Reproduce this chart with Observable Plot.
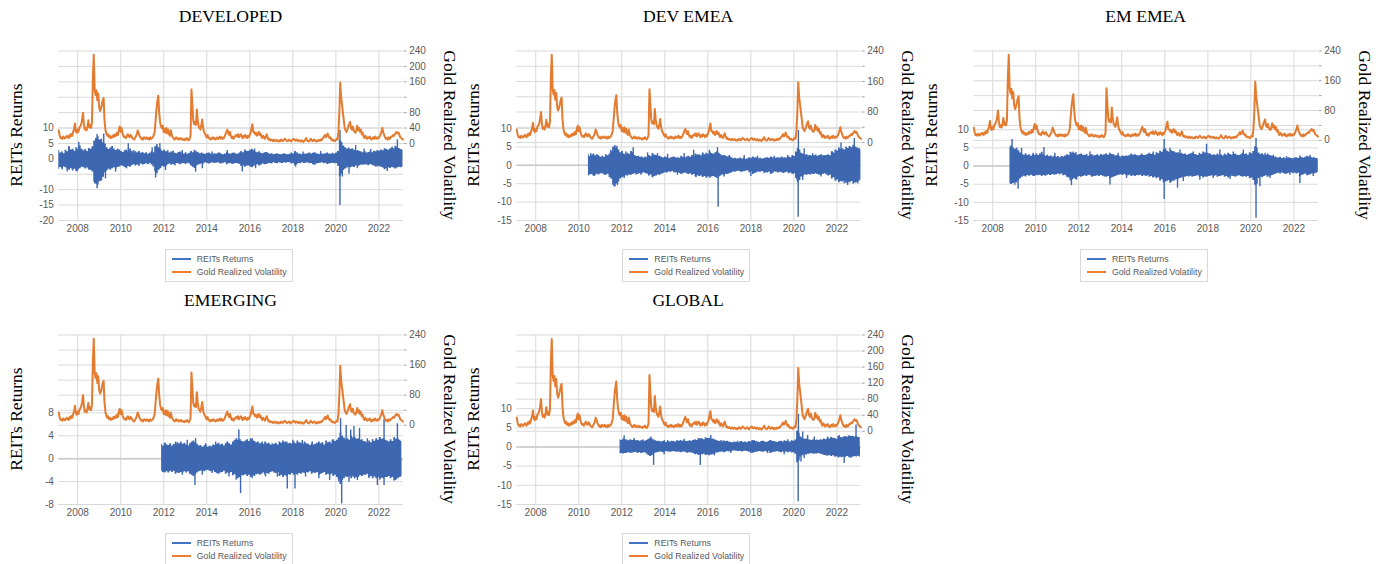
<!DOCTYPE html>
<html><head><meta charset="utf-8">
<script src="https://cdn.jsdelivr.net/npm/d3@7"></script>
<script src="https://cdn.jsdelivr.net/npm/@observablehq/plot@0.6"></script>
<style>
body{margin:0;background:#fff;}
#root{position:relative;width:1384px;height:564px;overflow:hidden;background:#fff;}
.panel{position:absolute;width:458px;height:284px;}
.title{position:absolute;left:58.3px;width:344.4px;top:5.8px;text-align:center;font:17.6px "Liberation Serif",serif;line-height:20px;color:#000;white-space:nowrap;}
.ylab{position:absolute;font:17.5px "Liberation Serif",serif;line-height:17.5px;white-space:nowrap;color:#000;}
.legend{position:absolute;left:164.5px;top:248.7px;width:128px;height:33px;border:1px solid #d9d9d9;box-sizing:border-box;font:8.8px "Liberation Sans",sans-serif;color:#595959;background:#fff;}
.lg{position:absolute;left:0;height:12px;line-height:12px;white-space:nowrap;}
.sw{position:absolute;left:6.2px;top:5px;width:19px;height:2px;}
.lt{position:absolute;left:31.2px;top:0;}
</style></head>
<body><div id="root"></div>
<script>
// ---------- shared ticks ----------
const yearTicks = [2008, 2010, 2012, 2014, 2016, 2018, 2020, 2022];
const rightTicks = [0, 40, 80, 120, 160, 200, 240];

// ---------- Gold realized volatility (semi-monthly, from 2007.12) ----------
const goldStart = 2007.12;
const goldVol = [
 34,20,14,16,12,18,15,13,17,20,16,14,22,18,25,20,30,36,52,32,28,36,30,42,
 44,50,62,80,50,36,40,34,44,60,42,48,40,55,170,230,140,126,138,112,130,95,84,90,
 100,112,118,60,36,26,20,24,16,20,14,18,16,22,18,24,20,28,22,36,44,30,40,28,
 20,16,18,14,20,24,18,16,22,20,14,12,10,14,18,24,34,28,20,16,12,14,10,16,
 14,12,16,12,14,10,16,12,14,16,22,30,60,90,110,124,80,56,44,40,46,30,38,28,
 40,26,36,24,20,34,22,16,14,10,12,16,12,14,10,12,14,10,12,10,8,12,10,14,
 10,8,12,20,140,100,60,50,56,48,88,60,44,40,36,48,62,40,30,26,20,16,22,14,
 14,10,14,12,16,12,14,10,12,16,12,14,18,12,16,12,14,18,24,30,36,28,22,30,
 20,14,18,12,16,20,22,18,24,16,20,24,18,14,20,16,22,18,14,20,16,22,28,40,
 50,30,30,24,28,20,24,30,22,26,18,14,20,16,12,18,24,16,10,12,8,10,8,6,
 10,8,6,9,7,5,8,6,10,8,6,9,12,10,7,6,8,10,7,5,8,10,12,9,
 7,10,8,6,9,7,5,8,6,4,7,10,14,8,6,5,8,12,9,6,8,10,7,5,
 8,6,9,7,10,8,12,14,18,22,16,20,26,18,14,16,10,8,10,7,6,9,12,10,
 30,80,158,120,100,80,60,40,34,30,36,44,50,56,40,36,44,34,30,28,34,46,34,40,
 30,36,24,28,18,14,20,16,12,16,14,18,12,10,14,16,12,18,14,12,16,14,18,24,
 30,40,28,22,16,12,14,10,16,12,14,18,18,22,20,24,28,30,26,28,22,16,14,12,
 10];

// ---------- REITs returns: monthly high / low envelopes + notable daily spikes ----------
// DEVELOPED (monthly from 2007.12)
const devStart = 2007.12;
const devHi = [
 2.6,1.9,2.2,1.7,2.8,2.3,3.8,2.9,3.1,2.5,3.6,3.0,
 4.2,3.1,2.6,3.0,2.4,3.4,3.1,3.9,5.8,6.6,7.2,6.1,
 6.4,5.2,4.8,3.6,3.0,3.5,4.0,3.2,2.7,3.1,2.9,2.4,
 2.1,2.6,2.9,2.2,3.2,2.5,1.9,2.3,2.0,2.4,1.8,2.1,
 1.7,2.0,1.5,1.8,2.3,2.0,3.9,4.6,3.6,3.1,2.5,2.8,
 2.3,2.6,1.9,2.2,2.5,1.8,1.7,2.1,2.2,1.8,1.6,2.0,
 1.5,1.8,2.4,2.0,2.8,2.3,2.0,1.7,1.9,1.6,1.5,1.8,
 1.9,1.6,1.3,1.7,1.5,1.8,1.9,1.5,1.3,1.6,2.1,1.7,
 1.5,1.8,1.9,1.6,1.5,1.9,2.4,2.0,2.9,2.5,2.4,2.8,
 3.1,2.6,2.2,2.0,2.3,1.8,1.7,2.0,2.1,1.8,1.5,1.7,
 1.3,1.5,1.7,1.4,1.3,1.5,1.7,1.4,1.3,1.5,1.9,1.6,
 2.4,2.0,1.6,1.5,1.3,1.6,1.5,1.7,1.9,1.6,1.8,2.0,
 1.7,1.5,1.3,1.6,1.5,1.7,1.9,1.6,1.5,1.8,1.6,1.9,
 2.4,6.0,5.4,4.2,3.6,3.2,3.5,3.0,3.3,2.8,2.5,2.7,
 2.4,2.2,2.0,2.3,1.9,2.1,2.3,2.0,2.5,2.3,2.7,2.5,
 2.9,2.6,3.3,3.0,2.8,3.2,3.6,3.3,4.1,3.8,3.4,3.0,
 2.8];
const devLo = [
 -3.4,-2.8,-3.1,-2.6,-2.9,-3.3,-3.7,-3.2,-3.9,-3.4,-4.1,-3.6,
 -3.2,-2.7,-2.9,-3.3,-3.0,-3.6,-3.8,-4.3,-7.5,-8.2,-8.6,-7.4,
 -7.2,-6.0,-4.6,-3.9,-3.4,-3.7,-3.2,-2.9,-3.3,-2.8,-2.6,-2.3,
 -2.4,-2.8,-3.2,-2.5,-2.7,-2.2,-1.9,-2.3,-2.0,-2.4,-1.7,-2.0,
 -1.8,-1.6,-1.9,-1.5,-2.0,-2.6,-4.2,-4.8,-3.7,-3.2,-2.5,-2.7,
 -2.4,-2.0,-1.7,-2.1,-1.8,-2.2,-1.5,-1.7,-1.9,-1.6,-1.5,-1.8,
 -1.4,-1.7,-2.3,-2.7,-3.1,-2.4,-2.0,-1.8,-1.5,-1.7,-1.3,-1.5,
 -1.7,-1.4,-1.3,-1.5,-1.4,-1.3,-1.6,-1.7,-1.4,-1.3,-1.9,-1.6,
 -1.5,-1.8,-1.7,-1.5,-1.6,-1.8,-2.5,-2.2,-2.7,-2.4,-2.3,-2.6,
 -2.9,-2.5,-2.0,-1.9,-2.3,-2.1,-1.7,-1.9,-1.8,-1.6,-1.5,-1.7,
 -1.3,-1.5,-1.6,-1.3,-1.4,-1.5,-1.3,-1.4,-1.2,-1.3,-1.7,-1.5,
 -2.2,-1.9,-1.5,-1.6,-1.3,-1.5,-1.4,-1.3,-1.6,-1.5,-1.9,-2.1,
 -1.7,-1.5,-1.4,-1.3,-1.6,-1.4,-1.8,-1.7,-1.5,-1.4,-1.6,-1.5,
 -2.4,-5.8,-5.0,-3.8,-3.3,-3.0,-2.7,-2.9,-2.6,-2.8,-2.3,-2.5,
 -2.2,-2.0,-2.1,-1.9,-2.0,-2.2,-1.8,-2.1,-2.4,-2.2,-2.6,-2.5,
 -2.7,-3.0,-3.5,-3.2,-2.9,-3.1,-2.8,-3.0,-3.3,-3.0,-2.7,-2.9,
 -2.6];
const devSpikes = [
 [2007.59,4.0],[2008.52,3.2],[2008.05,5.4],[2008.90,7.9],[2009.21,8.1],[2010.35,4.9],[2010.61,2.7],
 [2011.46,3.6],[2011.82,4.9],[2012.86,2.7],[2014.25,2.2],[2014.95,2.7],[2016.22,3.2],[2018.47,2.2],
 [2019.29,2.4],[2020.19,9.2],[2020.92,4.3],[2021.31,3.2],[2021.62,3.0],[2022.62,3.8],[2022.86,6.2],
 [2007.28,-3.6],[2007.51,-4.3],[2007.97,-4.3],[2008.79,-8.1],[2008.90,-9.7],[2009.29,-6.5],
 [2009.76,-4.3],[2011.62,-6.2],[2012.08,-3.8],[2013.48,-4.3],[2013.79,-3.2],[2015.65,-4.3],
 [2016.27,-3.2],[2018.13,-2.7],[2020.19,-15.1],[2020.30,-5.9],[2020.61,-4.9],[2021.00,-3.2],
 [2021.85,-2.7],[2022.39,-4.1]];

// DEV EMEA (monthly from 2010.45)
const devEmeaStart = 2010.45;
const devEmeaHi = [
 2.9,2.4,2.7,3.1,2.6,2.9,2.5,2.2,
 2.5,2.2,2.9,2.6,3.1,3.7,4.9,5.3,4.6,4.2,3.4,3.8,
 3.1,2.8,3.3,3.0,3.8,3.4,2.7,2.4,2.5,2.2,2.3,2.0,
 2.3,2.1,2.7,2.4,3.2,2.8,2.7,2.4,2.5,2.2,2.0,2.3,
 2.1,1.8,2.0,2.2,2.3,2.0,2.1,1.9,2.5,2.2,2.0,2.3,
 2.5,2.2,2.7,2.5,3.1,2.8,2.9,2.6,3.2,2.9,3.3,3.0,
 3.6,3.2,3.0,3.4,3.7,3.3,2.9,2.6,2.7,2.5,2.3,2.5,
 2.1,1.8,1.9,1.7,1.8,2.0,1.7,1.9,1.6,1.8,2.1,1.9,
 2.3,2.0,2.1,1.8,1.9,1.7,1.8,2.0,2.1,1.9,2.3,2.1,
 1.8,2.0,2.1,1.9,2.3,2.0,2.1,1.9,2.3,2.1,2.7,2.4,
 3.6,4.6,4.2,3.3,3.0,2.8,2.9,2.6,2.7,2.5,2.6,2.8,
 2.5,2.7,2.9,2.6,2.5,2.7,2.9,2.6,3.7,3.3,4.2,3.9,
 4.7,4.3,4.5,4.2,4.9,4.6,5.1,4.8,5.5,5.0,4.8,4.5,
 4.2];
const devEmeaLo = [
 -2.9,-2.6,-2.5,-2.9,-2.7,-2.4,-2.6,-2.3,
 -2.3,-2.5,-2.7,-2.4,-3.3,-3.8,-5.4,-5.8,-5.1,-4.6,-3.7,-3.4,
 -3.1,-2.8,-2.9,-2.6,-2.7,-2.5,-2.3,-2.6,-2.4,-2.2,-2.3,-2.0,
 -2.2,-2.4,-2.9,-2.6,-3.3,-3.0,-2.9,-2.6,-2.7,-2.4,-2.2,-2.0,
 -2.1,-1.8,-1.9,-1.7,-2.0,-2.1,-1.9,-2.2,-2.5,-2.3,-2.1,-2.3,
 -2.5,-2.3,-2.7,-2.5,-3.1,-2.8,-3.0,-2.9,-3.3,-3.0,-3.5,-3.2,
 -3.5,-3.2,-3.0,-3.3,-3.6,-3.2,-2.9,-2.6,-2.7,-2.4,-2.5,-2.2,
 -2.1,-1.8,-1.9,-1.7,-1.6,-1.8,-1.9,-1.7,-1.6,-1.5,-2.0,-1.8,
 -2.5,-2.2,-2.0,-1.8,-1.9,-1.7,-1.8,-2.0,-2.1,-1.9,-2.5,-2.2,
 -1.8,-1.9,-2.1,-1.9,-2.0,-2.2,-2.0,-1.9,-2.3,-2.1,-2.5,-2.3,
 -3.5,-4.6,-4.1,-3.2,-2.9,-2.6,-2.7,-2.5,-2.6,-2.4,-2.5,-2.3,
 -2.5,-2.7,-2.6,-2.5,-2.3,-2.6,-2.9,-2.7,-3.7,-3.4,-4.3,-4.0,
 -4.7,-4.4,-4.5,-4.2,-4.9,-4.6,-4.7,-4.4,-5.1,-4.8,-4.7,-4.4,
 -4.0];
const devEmeaSpikes = [
 [2010.56,3.2],[2010.90,2.7],[2011.49,4.1],[2011.77,5.2],[2012.19,3.6],[2012.53,4.8],[2013.20,3.4],
 [2013.66,3.2],[2014.13,3.0],[2014.90,3.2],[2015.34,4.1],[2015.76,3.4],[2016.07,4.1],[2016.45,4.8],
 [2017.00,2.7],[2017.69,2.7],[2018.31,2.5],[2019.09,2.5],[2019.71,2.7],[2020.21,9.5],[2020.48,4.5],
 [2020.87,3.2],[2021.41,2.7],[2021.80,3.6],[2022.19,6.1],[2022.58,5.0],[2022.81,7.3],[2023.04,4.5],
 [2010.72,-3.0],[2011.18,-2.7],[2011.65,-5.9],[2011.80,-5.5],[2012.11,-3.6],[2012.89,-2.7],
 [2013.43,-3.4],[2014.59,-2.7],[2015.45,-3.4],[2016.14,-3.0],[2016.48,-11.4],[2016.76,-3.2],
 [2018.00,-3.0],[2018.62,-2.3],[2020.14,-3.9],[2020.20,-14.1],[2020.41,-4.1],[2021.26,-3.2],
 [2022.34,-5.0],[2022.50,-5.5],[2022.97,-5.0]];

// EM EMEA (monthly from 2008.8)
const emEmeaStart = 2008.8;
const emEmeaHi = [
 5.2,5.6,5.0,4.6,
 4.9,4.2,3.6,3.2,3.0,3.4,2.9,3.1,2.7,3.2,2.9,3.4,
 2.9,3.3,3.8,3.1,2.7,3.0,2.6,2.8,2.5,2.7,2.4,2.6,
 2.3,2.6,2.5,2.8,3.1,2.9,3.8,3.5,3.4,3.7,3.0,3.2,
 3.3,3.0,2.9,3.2,2.7,3.0,3.1,2.8,2.9,3.1,2.8,3.2,
 2.9,3.1,3.3,3.0,3.5,3.2,3.1,2.8,2.9,2.7,2.5,2.8,
 2.6,2.8,2.7,3.0,3.3,3.0,3.1,2.9,2.8,3.0,3.1,2.9,
 3.0,3.2,3.5,3.2,3.3,3.0,3.7,3.4,4.1,3.8,4.5,4.8,
 4.1,3.8,4.3,4.0,3.9,3.6,3.7,3.4,3.5,3.2,3.3,3.0,
 3.2,3.4,3.5,3.2,3.1,2.9,3.5,3.2,3.9,3.6,3.7,3.4,
 3.3,3.0,3.1,2.9,3.3,3.0,3.1,2.8,3.3,3.0,3.5,3.2,
 3.0,3.2,3.3,3.0,2.9,3.1,3.5,3.2,3.3,3.0,3.7,3.4,
 4.0,5.3,5.0,3.6,3.2,3.4,3.0,2.9,3.3,3.0,2.8,2.6,
 2.5,2.3,2.2,2.4,2.1,2.3,2.0,2.2,2.3,2.1,2.0,2.2,
 2.3,2.1,2.5,2.3,2.2,2.4,2.7,2.5,2.4,2.2,2.3,2.1,
 2.0];
const emEmeaLo = [
 -4.9,-5.1,-4.8,-4.5,
 -4.7,-4.0,-3.5,-3.1,-2.8,-3.0,-2.6,-2.8,-2.5,-2.7,-2.9,-2.6,
 -2.7,-2.5,-2.9,-2.6,-2.8,-2.5,-2.4,-2.6,-2.3,-2.5,-2.4,-2.2,
 -2.4,-2.2,-2.7,-2.5,-3.1,-3.3,-4.1,-3.8,-3.5,-3.7,-3.1,-2.9,
 -3.1,-2.9,-2.7,-2.9,-2.5,-2.7,-3.1,-2.8,-2.9,-2.7,-2.9,-2.6,
 -2.8,-3.0,-3.1,-2.9,-3.5,-3.3,-3.1,-2.9,-2.7,-2.5,-2.4,-2.6,
 -2.3,-2.5,-2.7,-2.5,-2.9,-2.7,-2.9,-2.6,-2.7,-2.5,-2.9,-2.7,
 -2.8,-2.6,-3.1,-2.9,-3.3,-3.1,-3.5,-3.2,-4.1,-3.8,-4.6,-4.4,
 -4.2,-4.0,-4.5,-4.2,-4.1,-3.8,-3.7,-3.4,-3.3,-3.0,-3.1,-2.9,
 -3.0,-2.8,-3.1,-2.9,-2.8,-2.7,-3.1,-2.9,-3.3,-3.0,-3.1,-2.9,
 -2.8,-2.7,-2.9,-2.7,-3.1,-2.9,-2.8,-2.6,-3.1,-2.9,-3.3,-3.0,
 -2.8,-2.9,-3.1,-2.8,-2.7,-2.9,-3.1,-2.9,-3.1,-2.9,-3.5,-3.3,
 -4.0,-5.3,-5.0,-3.4,-3.0,-3.2,-2.9,-2.7,-3.1,-2.8,-2.7,-2.5,
 -2.3,-2.1,-2.0,-2.2,-1.9,-2.1,-2.3,-2.1,-2.0,-1.8,-2.1,-1.9,
 -2.2,-2.0,-2.9,-2.6,-2.4,-2.2,-2.7,-2.5,-2.3,-2.1,-2.2,-2.0,
 -1.8];
const emEmeaSpikes = [
 [2008.90,7.3],[2009.34,4.9],[2009.88,3.5],[2010.38,5.1],[2010.89,3.5],[2011.74,3.9],[2012.52,3.9],
 [2013.14,3.0],[2013.83,3.5],[2014.92,3.3],[2015.46,3.9],[2015.97,7.3],[2016.24,4.9],[2016.70,4.4],
 [2017.32,3.9],[2017.94,6.0],[2018.56,4.4],[2019.18,3.9],[2019.65,4.4],[2020.24,7.6],[2020.66,3.5],
 [2021.04,3.0],[2021.66,2.6],[2022.28,2.8],[2022.75,3.0],
 [2009.03,-5.3],[2009.18,-6.4],[2009.88,-2.9],[2010.65,-2.5],[2011.66,-5.4],[2011.90,-3.9],
 [2012.67,-2.9],[2013.45,-5.2],[2014.22,-3.4],[2015.15,-2.9],[2015.97,-9.2],[2016.24,-4.8],
 [2016.59,-6.1],[2016.86,-4.3],[2017.63,-3.9],[2018.25,-3.4],[2019.03,-3.7],[2020.24,-14.4],
 [2020.42,-5.7],[2020.89,-3.4],[2021.82,-2.5],[2022.28,-4.8],[2022.90,-2.9]];

// EMERGING (monthly from 2011.9)
const emergingStart = 2011.9;
const emergingHi = [
 2.5,2.2,
 2.7,2.4,2.3,2.6,2.2,2.5,2.4,2.8,2.6,2.9,2.5,2.7,
 2.4,2.2,2.6,2.9,3.1,2.8,2.5,2.2,2.3,2.0,2.2,2.4,
 2.0,2.2,2.1,2.4,2.3,2.5,2.7,2.4,2.5,2.2,2.6,2.9,
 2.6,2.4,2.9,3.2,3.5,3.2,3.3,3.0,2.9,3.1,3.3,3.0,
 3.5,3.2,3.0,2.8,2.9,2.6,2.7,2.5,2.9,2.6,2.7,2.4,
 2.3,2.5,2.7,2.4,2.9,2.7,3.1,2.8,2.9,2.6,2.7,2.5,
 2.9,2.6,3.1,2.8,2.7,2.5,2.9,2.6,2.5,2.3,2.6,2.4,
 2.5,2.7,2.9,2.6,2.7,2.4,3.1,2.8,2.9,2.6,3.3,3.0,
 3.2,3.6,4.5,3.9,3.6,3.3,3.5,3.2,3.9,3.6,3.7,3.4,
 3.5,3.2,3.3,3.0,2.9,2.7,3.1,2.8,3.3,3.0,3.5,3.2,
 3.7,3.4,3.5,3.2,3.1,2.9,3.3,3.0,3.7,3.4,3.5,3.2,
 3.0];
const emergingLo = [
 -2.2,-2.4,
 -2.5,-2.3,-2.5,-2.2,-2.4,-2.2,-2.7,-2.5,-2.6,-2.4,-2.5,-2.3,
 -2.5,-2.3,-2.7,-2.9,-3.1,-2.8,-2.5,-2.3,-2.2,-2.0,-2.3,-2.1,
 -2.0,-2.2,-2.3,-2.1,-2.4,-2.6,-2.7,-2.5,-2.4,-2.2,-2.7,-2.5,
 -2.6,-2.4,-3.0,-2.8,-3.7,-3.4,-3.3,-3.0,-3.0,-2.8,-3.1,-2.9,
 -3.3,-3.0,-3.1,-2.8,-2.7,-2.9,-2.7,-2.5,-2.9,-2.6,-2.7,-2.4,
 -2.3,-2.5,-2.6,-2.4,-3.1,-2.9,-3.3,-3.0,-3.1,-2.8,-2.9,-2.6,
 -2.9,-2.7,-2.9,-2.6,-2.7,-2.5,-2.6,-2.4,-2.5,-2.3,-2.7,-2.5,
 -2.6,-2.4,-2.9,-2.7,-2.6,-2.4,-2.9,-2.7,-2.9,-2.7,-3.1,-2.9,
 -3.3,-3.7,-4.5,-3.8,-3.5,-3.2,-3.3,-3.1,-3.5,-3.2,-3.5,-3.3,
 -3.3,-3.0,-3.1,-2.9,-2.9,-2.7,-3.3,-3.1,-3.5,-3.2,-3.5,-3.3,
 -3.7,-3.4,-3.5,-3.3,-3.3,-3.1,-3.5,-3.3,-3.9,-3.6,-3.5,-3.3,
 -3.0];
const emergingSpikes = [
 [2012.08,2.6],[2012.55,2.9],[2013.09,3.2],[2013.48,3.5],[2013.94,2.6],[2014.41,2.9],[2014.95,2.8],
 [2015.49,5.0],[2015.88,3.2],[2016.11,3.5],[2016.58,2.9],[2017.04,2.6],[2017.66,2.9],[2018.00,3.2],
 [2018.44,3.2],[2018.90,2.9],[2019.37,2.8],[2019.83,3.2],[2020.22,7.0],[2020.48,5.8],[2020.69,5.0],
 [2020.84,5.6],[2021.10,5.3],[2021.46,3.5],[2021.85,3.2],[2022.24,6.9],[2022.47,2.9],[2022.86,6.1],
 [2012.24,-2.3],[2012.86,-2.9],[2013.45,-4.7],[2013.79,-2.9],[2014.25,-2.6],[2015.03,-3.2],
 [2015.57,-6.1],[2016.11,-3.5],[2016.73,-3.2],[2017.28,-3.2],[2017.74,-5.3],[2018.10,-5.3],
 [2018.59,-3.2],[2019.21,-3.5],[2019.71,-3.8],[2020.14,-4.1],[2020.27,-7.9],[2020.61,-4.1],
 [2021.00,-3.8],[2021.54,-3.5],[2021.93,-4.7],[2022.24,-4.7],[2022.78,-3.8],[2023.01,-3.2]];

// GLOBAL (monthly from 2011.92)
const globalStart = 2011.92;
const globalHi = [
 1.9,1.7,
 2.1,1.9,1.8,1.6,1.9,1.7,1.8,1.6,1.7,1.5,1.6,1.8,
 1.5,1.7,2.0,2.2,2.1,1.8,1.6,1.4,1.5,1.3,1.4,1.6,
 1.2,1.4,1.3,1.5,1.4,1.3,1.6,1.5,1.7,1.5,1.6,1.4,
 1.4,1.6,1.5,1.7,1.9,1.7,2.2,2.0,2.1,1.9,2.4,2.2,
 2.3,2.0,2.1,1.9,1.7,1.5,1.4,1.3,1.6,1.4,1.5,1.3,
 1.2,1.1,1.3,1.2,1.1,1.3,1.4,1.2,1.3,1.1,1.4,1.3,
 1.7,1.5,1.4,1.3,1.2,1.4,1.5,1.3,1.2,1.4,1.7,1.5,
 1.4,1.3,1.2,1.4,1.5,1.3,1.6,1.4,1.5,1.3,1.6,1.5,
 1.8,4.1,3.6,2.6,2.3,2.0,2.1,1.9,1.8,1.7,1.9,1.7,
 1.8,1.7,1.9,1.8,2.1,1.9,2.3,2.1,2.5,2.3,2.2,2.0,
 2.7,2.5,2.4,2.6,2.7,2.5,2.9,2.7,2.8,2.6,2.7,2.5,
 2.4];
const globalLo = [
 -1.8,-1.7,
 -1.8,-1.7,-1.6,-1.5,-1.7,-1.6,-1.5,-1.4,-1.6,-1.5,-1.7,-1.6,
 -1.5,-1.8,-2.2,-2.5,-2.3,-1.8,-1.6,-1.5,-1.4,-1.3,-1.5,-1.4,
 -1.2,-1.3,-1.4,-1.3,-1.2,-1.3,-1.4,-1.3,-1.5,-1.4,-1.3,-1.5,
 -1.4,-1.5,-1.6,-1.7,-2.0,-1.9,-2.2,-2.1,-2.0,-1.9,-2.2,-2.1,
 -2.3,-2.1,-2.0,-1.8,-1.6,-1.5,-1.4,-1.3,-1.5,-1.4,-1.2,-1.3,
 -1.2,-1.1,-1.0,-1.1,-1.2,-1.1,-1.3,-1.2,-1.1,-1.2,-1.4,-1.3,
 -1.7,-1.5,-1.4,-1.3,-1.2,-1.3,-1.4,-1.2,-1.3,-1.1,-1.7,-1.5,
 -1.4,-1.3,-1.2,-1.4,-1.5,-1.3,-1.4,-1.3,-1.5,-1.3,-1.6,-1.5,
 -1.9,-4.1,-3.6,-2.6,-2.3,-2.0,-2.1,-1.9,-1.8,-1.7,-1.9,-1.8,
 -1.8,-1.7,-1.9,-2.0,-2.1,-2.3,-2.4,-2.2,-2.5,-2.3,-2.6,-2.4,
 -2.9,-2.7,-2.8,-2.6,-2.7,-2.5,-2.8,-2.6,-2.7,-2.5,-2.6,-2.4,
 -2.2];
const globalSpikes = [
 [2012.11,2.9],[2012.58,2.2],[2013.35,2.6],[2014.13,1.7],[2014.90,2.0],[2015.68,2.2],[2016.14,3.0],
 [2016.61,1.7],[2017.38,1.5],[2018.16,1.7],[2018.93,1.5],[2019.71,1.9],[2020.21,8.5],[2020.41,3.9],
 [2020.64,3.0],[2020.95,2.6],[2021.57,2.6],[2022.11,3.0],[2022.50,2.6],[2022.89,5.7],
 [2012.19,-1.7],[2012.73,-1.7],[2013.48,-4.8],[2013.97,-2.0],[2015.06,-1.7],[2015.65,-4.8],
 [2016.30,-2.3],[2017.07,-1.7],[2018.00,-1.7],[2018.78,-1.7],[2019.55,-2.0],[2020.20,-14.3],
 [2020.33,-3.9],[2020.48,-3.0],[2021.41,-2.2],[2021.96,-2.6],[2022.34,-4.3],[2022.65,-3.0],[2023.04,-2.6]];

// ---------- panel definitions ----------
const panels = [
 {title:"DEVELOPED", col:0, row:0, start:devStart, hi:devHi, lo:devLo, spikes:devSpikes,
  yDomain:[-20,35], r0:5, k:0.125, grid:[-20,-15,-10,-5,0,5,10], left:[10,5,0,-10,-15,-20], right:[240,200,160,80,40,0]},
 {title:"DEV EMEA", col:1, row:0, start:devEmeaStart, hi:devEmeaHi, lo:devEmeaLo, spikes:devEmeaSpikes,
  yDomain:[-15,31.1], r0:6.2, k:(31.1-6.2)/240, grid:[-15,-10,-5,0,5,10], left:[10,5,0,-5,-10,-15], right:[240,160,80,0]},
 {title:"EM EMEA", col:2, row:0, start:emEmeaStart, hi:emEmeaHi, lo:emEmeaLo, spikes:emEmeaSpikes,
  yDomain:[-15,31.7], r0:7.1, k:(31.7-7.1)/240, grid:[-15,-10,-5,0,5,10], left:[10,5,0,-5,-10,-15], right:[240,160,80,0]},
 {title:"EMERGING", col:0, row:1, start:emergingStart, hi:emergingHi, lo:emergingLo, spikes:emergingSpikes,
  yDomain:[-8,21.6], r0:5.84, k:(21.6-5.84)/240, grid:[-8,-4,0,4,8], left:[8,4,0,-4,-8], right:[240,160,80,0]},
 {title:"GLOBAL", col:1, row:1, start:globalStart, hi:globalHi, lo:globalLo, spikes:globalSpikes,
  yDomain:[-15,29.2], r0:4.1, k:(29.2-4.1)/240, grid:[-15,-10,-5,0,5,10], left:[10,5,0,-5,-10,-15], right:[240,200,160,120,80,40,0]}
];

const BLUE = "#3d67b1", ORANGE = "#e37b30", GRID = "#d9d9d9";
const root = document.getElementById("root");

for (const p of panels) {
  const div = document.createElement("div");
  div.className = "panel";
  div.style.left = (p.col * 457.6) + "px";
  div.style.top = (p.row * 284) + "px";
  root.appendChild(div);

  const t = document.createElement("div");
  t.className = "title"; t.textContent = p.title; div.appendChild(t);

  const band = p.hi.map((h, i) => ({t: p.start + i / 12, hi: h, lo: p.lo[i]}));
  const gold = goldVol.map((v, i) => ({t: goldStart + i / 24, y: p.r0 + v * p.k}));
  const toL = v => p.r0 + v * p.k;

  const chart = Plot.plot({
    width: 458, height: 210,
    marginTop: 20.5, marginBottom: 20, marginLeft: 58.3, marginRight: 55.3,
    x: {type: "linear", domain: [2007.12, 2023.13], label: null},
    y: {domain: p.yDomain, label: null},
    style: {fontFamily: "'Liberation Sans', Arial, sans-serif", fontSize: "10px", color: "#595959", background: "transparent"},
    marks: [
      Plot.gridX(yearTicks, {stroke: GRID, strokeOpacity: 1, strokeWidth: 1}),
      Plot.gridY(p.grid, {stroke: GRID, strokeOpacity: 1, strokeWidth: 1}),
      Plot.gridY(rightTicks.map(toL), {stroke: GRID, strokeOpacity: 1, strokeWidth: 1}),
      Plot.ruleY([0], {stroke: "#c8c8c8", strokeWidth: 1.5}),
      Plot.areaY(band, {x: "t", y1: "lo", y2: "hi", fill: BLUE, curve: "step"}),
      Plot.ruleX(p.spikes, {x: d => d[0], y1: () => 0, y2: d => d[1], stroke: BLUE, strokeWidth: 1.4}),
      Plot.line(gold, {x: "t", y: "y", stroke: ORANGE, strokeWidth: 2}),
      Plot.axisX(yearTicks, {tickSize: 0, tickPadding: 4.5, tickFormat: d => String(d), label: null}),
      Plot.axisY(p.left, {anchor: "left", tickSize: 0, tickPadding: 5, tickFormat: d => String(d), label: null}),
      Plot.axisY(rightTicks.map(toL), {anchor: "right", tickSize: 3, tickFormat: () => "", stroke: "#a6a6a6", label: null}),
      Plot.axisY(p.right.map(toL), {anchor: "right", tickSize: 0, tickPadding: 6,
        tickFormat: d => String(Math.round((d - p.r0) / p.k)), label: null})
    ]
  });
  chart.style.position = "absolute"; chart.style.left = "0px"; chart.style.top = "30px";
  div.appendChild(chart);

  const yl = document.createElement("div");
  yl.className = "ylab"; yl.textContent = "REITs Returns";
  yl.style.left = "16.7px"; yl.style.top = "135px";
  yl.style.transform = "translate(-50%,-50%) rotate(-90deg)";
  div.appendChild(yl);

  const yr = document.createElement("div");
  yr.className = "ylab"; yr.textContent = "Gold Realized Volatility";
  yr.style.left = "449px"; yr.style.top = "135px";
  yr.style.transform = "translate(-50%,-50%) rotate(90deg)";
  div.appendChild(yr);

  const lg = document.createElement("div");
  lg.className = "legend";
  lg.innerHTML =
    '<div class="lg" style="top:3px"><span class="sw" style="background:#4472c4"></span><span class="lt">REITs Returns</span></div>' +
    '<div class="lg" style="top:16px"><span class="sw" style="background:#ed7d31"></span><span class="lt">Gold Realized Volatility</span></div>';
  div.appendChild(lg);
}
</script>
</body></html>
